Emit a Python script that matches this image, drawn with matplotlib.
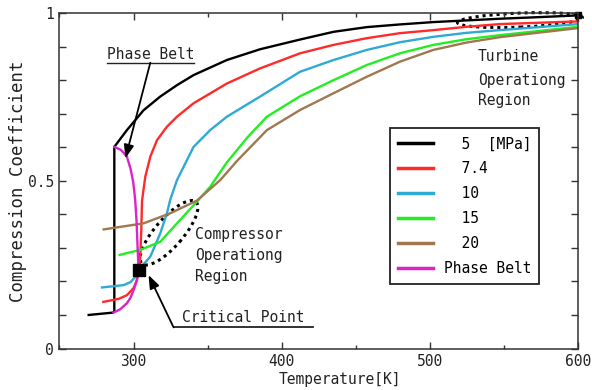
import matplotlib
matplotlib.use("Agg")
import matplotlib.pyplot as plt
import matplotlib.transforms as mtransforms
from matplotlib.patches import Ellipse
from matplotlib.ticker import MultipleLocator

plt.rcParams['font.family'] = ['DejaVu Sans Mono']

# ---- data ----
t_5 = [269.7, 286.1, 287.0, 287.0, 295.5, 306.7, 318.0, 329.3, 340.5, 363.0, 385.4, 412.4, 435.0, 457.4, 479.8, 502.3, 524.8, 547.2, 575.0, 600.0]
z_5 = [0.100, 0.107, 0.110, 0.601, 0.651, 0.710, 0.751, 0.785, 0.815, 0.860, 0.892, 0.921, 0.944, 0.958, 0.966, 0.973, 0.978, 0.983, 0.988, 0.993]

t_74 = [279.6, 290.0, 295.5, 300.0, 302.3, 303.4, 304.5, 305.2, 305.7, 307.9, 311.3, 315.8, 322.5, 329.3, 340.5, 363.0, 385.4, 412.4, 435.0, 457.4, 479.8, 502.3, 524.8, 547.2, 600.0]
z_74 = [0.139, 0.148, 0.159, 0.180, 0.204, 0.234, 0.270, 0.353, 0.440, 0.512, 0.572, 0.621, 0.661, 0.691, 0.731, 0.790, 0.835, 0.880, 0.905, 0.925, 0.940, 0.949, 0.959, 0.967, 0.975]

t_10 = [278.7, 293.3, 298.0, 302.3, 303.4, 311.3, 318.0, 322.5, 324.7, 329.3, 340.5, 351.7, 363.0, 385.4, 412.4, 435.0, 457.4, 479.8, 502.3, 524.8, 547.2, 600.0]
z_10 = [0.182, 0.189, 0.198, 0.219, 0.234, 0.274, 0.343, 0.403, 0.443, 0.502, 0.601, 0.651, 0.691, 0.751, 0.825, 0.860, 0.890, 0.913, 0.929, 0.941, 0.949, 0.967]

t_15 = [290.6, 304.5, 318.0, 329.3, 342.8, 351.7, 363.0, 377.0, 390.0, 412.4, 435.0, 457.4, 479.8, 502.3, 524.8, 547.2, 600.0]
z_15 = [0.279, 0.294, 0.318, 0.373, 0.438, 0.482, 0.555, 0.630, 0.691, 0.752, 0.800, 0.845, 0.880, 0.905, 0.922, 0.934, 0.959]

t_20 = [279.8, 306.7, 324.7, 342.8, 358.5, 370.0, 390.0, 412.4, 435.0, 457.4, 479.8, 502.3, 524.8, 547.2, 600.0]
z_20 = [0.355, 0.373, 0.403, 0.441, 0.502, 0.560, 0.651, 0.711, 0.761, 0.810, 0.855, 0.890, 0.912, 0.928, 0.955]

t_belt = [287.0, 291.5, 295.5, 298.0, 299.8, 301.1, 302.0, 302.7, 303.4, 302.0, 300.0, 298.0, 295.5, 291.0, 286.5]
z_belt = [0.601, 0.592, 0.572, 0.535, 0.495, 0.443, 0.380, 0.303, 0.234, 0.200, 0.174, 0.152, 0.135, 0.117, 0.107]

crit_t = [303.4]
crit_z = [0.234]

labels = ["  5  [MPa]", "  7.4", "  10", "  15", "  20", "Phase Belt"]
colors = ["#000000", "#ff2a2a", "#2eaad4", "#22ee22", "#a07850", "#dd22cc"]
x_ticks = [300, 400, 500, 600]
y_ticks = [0, 0.5, 1]
y_tick_labels = ["0", "0.5", "1"]

# ---- figure ----
fig = plt.figure(figsize=(5.92, 3.90), dpi=100)
ax = fig.add_axes([0.1005, 0.1064, 0.8759, 0.8602])

series = [(t_5, z_5), (t_74, z_74), (t_10, z_10), (t_15, z_15), (t_20, z_20), (t_belt, z_belt)]
for (tt, zz), c, lab in zip(series, colors, labels):
    ax.plot(tt, zz, color=c, lw=1.7, label=lab, solid_joinstyle='round')

ax.plot(crit_t, crit_z, marker='s', color='black', markersize=8, linestyle='none')
ax.plot([t_5[-1]], [z_5[-1]], marker='s', color='black', markersize=4, linestyle='none', clip_on=False)

ax.set_xlim(250, 600)
ax.set_ylim(0, 1)
ax.set_xticks(x_ticks)
ax.set_yticks(y_ticks)
ax.set_yticklabels(y_tick_labels)
ax.xaxis.set_minor_locator(MultipleLocator(50))
ax.yaxis.set_minor_locator(MultipleLocator(0.1))
ax.tick_params(which='both', direction='in', top=True, right=True, width=1, color='#333333', labelsize=10.5, labelcolor='#222222')
ax.tick_params(axis='x', which='major', length=5, pad=4)
ax.tick_params(axis='x', which='minor', length=3)
ax.tick_params(axis='y', which='both', length=5, pad=4)
for s in ax.spines.values():
    s.set_linewidth(1.1)
    s.set_color('#333333')

ax.set_xlabel("Temperature[K]", fontsize=10.5, color='#222222')
ax.xaxis.set_label_coords(0.54, -0.07)
ax.set_ylabel("Compression Coefficient", fontsize=12.5, color='#222222')
ax.yaxis.set_label_coords(-0.062, 0.5)

leg = ax.legend(loc='upper left', bbox_to_anchor=(0.638, 0.656), borderaxespad=0,
                fancybox=False, edgecolor='#222222', framealpha=1, fontsize=10.5,
                handlelength=2.4, handletextpad=0.7, labelspacing=0.68, borderpad=0.55)
leg.get_frame().set_linewidth(1.3)
for h in leg.get_lines():
    h.set_linewidth(2.5)

tc = '#222222'
# Phase Belt annotation
ax.text(311.3, 0.875, "Phase Belt", ha='center', va='center', fontsize=10.5, color=tc)
ax.plot([282.0, 341.0], [0.852, 0.852], color=tc, lw=1.0)
ax.annotate("", xy=(294.5, 0.567), xytext=(311.3, 0.852),
            arrowprops=dict(arrowstyle='-|>,head_length=0.8,head_width=0.3', color='black', lw=1.3, shrinkA=0, shrinkB=0))

# Critical point annotation
ax.text(332.6, 0.093, "Critical Point", ha='left', va='center', fontsize=10.5, color=tc)
ax.plot([327.0, 421.0], [0.063, 0.063], color=tc, lw=1.3)
ax.annotate("", xy=(310.1, 0.219), xytext=(327.0, 0.063),
            arrowprops=dict(arrowstyle='-|>,head_length=0.8,head_width=0.3', color='black', lw=1.3, shrinkA=0, shrinkB=0))

# Compressor region
for txt, zz in zip(["Compressor", "Operationg", "Region"], [0.341, 0.276, 0.214]):
    ax.text(341.6, zz, txt, ha='left', va='center', fontsize=10.5, color=tc)
# Turbine region
for txt, zz in zip(["Turbine", "Operationg", "Region"], [0.870, 0.800, 0.740]):
    ax.text(532.3, zz, txt, ha='left', va='center', fontsize=10.5, color=tc)

def dotted_ellipse(cx, cy, w_px, h_px, ang):
    tr = fig.dpi_scale_trans + mtransforms.ScaledTranslation(cx, cy, ax.transData)
    e = Ellipse((0, 0), w_px / fig.dpi, h_px / fig.dpi, angle=ang, transform=tr,
                fill=False, edgecolor='black', lw=2.2, linestyle=(0, (1, 1.3)), clip_on=False)
    ax.add_patch(e)

dotted_ellipse(323.9, 0.345, 82, 28, 49.0)
dotted_ellipse(560.8, 0.979, 125, 14, 2.3)

fig.savefig("out.png", dpi=100)
